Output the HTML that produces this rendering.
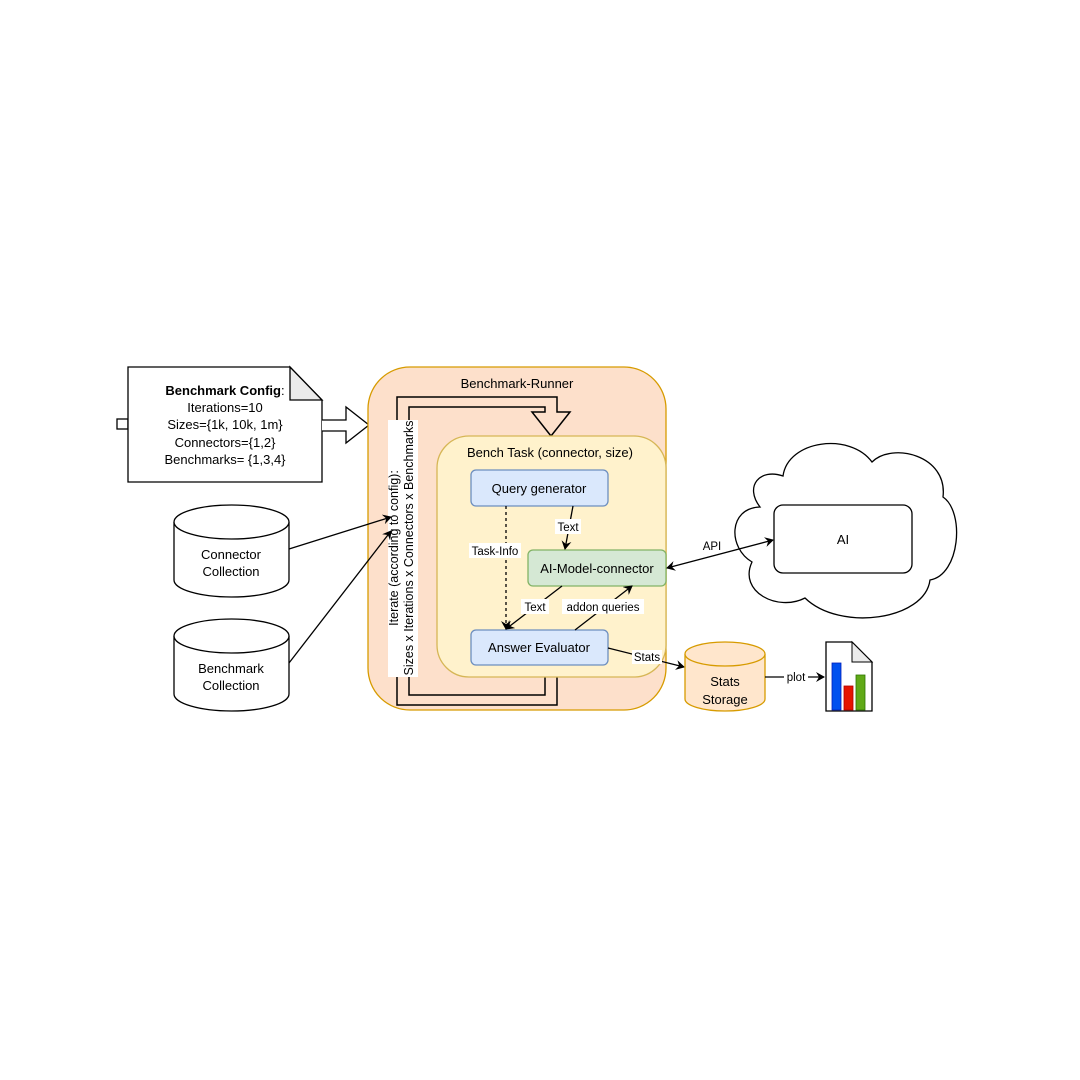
<!DOCTYPE html>
<html><head><meta charset="utf-8"><style>
html,body{margin:0;padding:0;background:#fff;}
svg{display:block;}
text{font-family:"Liberation Sans",Arial,sans-serif;fill:#000;}
</style></head><body>
<svg width="1080" height="1080" viewBox="0 0 1080 1080" xmlns="http://www.w3.org/2000/svg">
<defs>
<marker id="ah" markerWidth="10" markerHeight="10" refX="8" refY="5" orient="auto-start-reverse" markerUnits="userSpaceOnUse">
<path d="M0,0 L9,5 L0,10 L3,5 Z" fill="#000"/>
</marker>
</defs>
<rect width="1080" height="1080" fill="#fff"/>

<!-- Config note -->
<rect x="117" y="419" width="11" height="10" fill="#fff" stroke="#000" stroke-width="1.3"/>
<path d="M128,367 H290 L322,400 V482 H128 Z" fill="#fff" stroke="#000" stroke-width="1.3"/>
<path d="M290,367 V400 H322 Z" fill="#ebebeb" stroke="#000" stroke-width="1.3"/>
<text x="225" y="395" font-size="13" text-anchor="middle"><tspan font-weight="bold">Benchmark Config</tspan>:</text>
<text x="225" y="412" font-size="13" text-anchor="middle">Iterations=10</text>
<text x="225" y="429" font-size="13" text-anchor="middle">Sizes={1k, 10k, 1m}</text>
<text x="225" y="447" font-size="13" text-anchor="middle">Connectors={1,2}</text>
<text x="225" y="464" font-size="13" text-anchor="middle">Benchmarks= {1,3,4}</text>

<!-- hollow arrow -->
<path d="M322,420 H346 V407 L369,425 L346,443 V431 H322" fill="#fff" stroke="#000" stroke-width="1.3"/>

<!-- Benchmark runner -->
<rect x="368" y="367" width="298" height="343" rx="42" fill="#fde0cb" stroke="#d79b00" stroke-width="1.3"/>
<text x="517" y="388" font-size="13" text-anchor="middle">Benchmark-Runner</text>

<!-- loop arrow -->
<path d="M397,420 V397 H557 V412 H570 L551,436 L532,412 H545 V407 H409 V420" fill="#fde0cb" stroke="#000" stroke-width="1.5"/>
<path d="M397,677 V705 H557 V677 M409,677 V695 H545 V677" fill="none" stroke="#000" stroke-width="1.5"/>

<!-- Bench task -->
<rect x="437" y="436" width="229" height="241" rx="32" fill="#fff2cc" stroke="#d6b656" stroke-width="1.3"/>
<text x="550" y="457" font-size="13" text-anchor="middle">Bench Task (connector, size)</text>

<!-- iterate label -->
<rect x="388" y="420" width="30" height="257" fill="#fff"/>
<text transform="translate(398,548) rotate(-90)" font-size="12.5" text-anchor="middle">Iterate (according to config):</text>
<text transform="translate(413,548) rotate(-90)" font-size="12.5" text-anchor="middle">Sizes x Iterations x Connectors x Benchmarks</text>

<!-- inner boxes -->
<rect x="471" y="470" width="137" height="36" rx="5" fill="#dae8fc" stroke="#6c8ebf" stroke-width="1.3"/>
<text x="539" y="493" font-size="13" text-anchor="middle">Query generator</text>
<rect x="528" y="550" width="138" height="36" rx="5" fill="#d5e8d4" stroke="#82b366" stroke-width="1.3"/>
<text x="597" y="573" font-size="13" text-anchor="middle">AI-Model-connector</text>
<rect x="471" y="630" width="137" height="35" rx="5" fill="#dae8fc" stroke="#6c8ebf" stroke-width="1.3"/>
<text x="539" y="652" font-size="13" text-anchor="middle">Answer Evaluator</text>

<!-- inner edges -->
<line x1="573" y1="506" x2="565" y2="549" stroke="#000" stroke-width="1.3" marker-end="url(#ah)"/>
<rect x="555" y="519" width="26" height="15" fill="#fff"/>
<text x="568" y="531" font-size="11.5" text-anchor="middle">Text</text>
<line x1="506" y1="506" x2="506" y2="629" stroke="#000" stroke-width="1.3" stroke-dasharray="3,3" marker-end="url(#ah)"/>
<rect x="469" y="543" width="52" height="15" fill="#fff"/>
<text x="495" y="555" font-size="11.5" text-anchor="middle">Task-Info</text>
<line x1="562" y1="586" x2="506" y2="629" stroke="#000" stroke-width="1.3" marker-end="url(#ah)"/>
<rect x="521" y="599" width="28" height="15" fill="#fff"/>
<text x="535" y="611" font-size="11.5" text-anchor="middle">Text</text>
<line x1="575" y1="630" x2="632" y2="586" stroke="#000" stroke-width="1.3" marker-end="url(#ah)"/>
<rect x="562" y="599" width="82" height="15" fill="#fff"/>
<text x="603" y="611" font-size="11.5" text-anchor="middle">addon queries</text>

<!-- cylinders -->
<g fill="#fff" stroke="#000" stroke-width="1.3">
<path d="M174,522 A57.5,17 0 0 1 289,522 V580 A57.5,17 0 0 1 174,580 Z"/>
<path d="M174,522 A57.5,17 0 0 0 289,522"/>
<path d="M174,636 A57.5,17 0 0 1 289,636 V694 A57.5,17 0 0 1 174,694 Z"/>
<path d="M174,636 A57.5,17 0 0 0 289,636"/>
</g>
<text x="231" y="559" font-size="13" text-anchor="middle">Connector</text>
<text x="231" y="576" font-size="13" text-anchor="middle">Collection</text>
<text x="231" y="673" font-size="13" text-anchor="middle">Benchmark</text>
<text x="231" y="690" font-size="13" text-anchor="middle">Collection</text>
<line x1="289" y1="549" x2="391" y2="517" stroke="#000" stroke-width="1.3" marker-end="url(#ah)"/>
<line x1="289" y1="663" x2="391" y2="531" stroke="#000" stroke-width="1.3" marker-end="url(#ah)"/>

<!-- cloud -->
<path d="M783,476 C788,440 850,432 872,462 C892,442 948,455 943,497 C965,512 960,575 930,580 C925,620 840,632 805,598 C778,612 738,592 752,562 C728,548 728,508 760,507 C744,486 760,468 783,476 Z" fill="#fff" stroke="#000" stroke-width="1.3"/>
<rect x="774" y="505" width="138" height="68" rx="9" fill="#fff" stroke="#000" stroke-width="1.3"/>
<text x="843" y="544" font-size="13" text-anchor="middle">AI</text>
<line x1="667" y1="568" x2="773" y2="540" stroke="#000" stroke-width="1.3" marker-start="url(#ah)" marker-end="url(#ah)"/>
<rect x="700" y="538" width="24" height="14" fill="#fff"/>
<text x="712" y="550" font-size="11.5" text-anchor="middle">API</text>

<!-- stats -->
<line x1="608" y1="648" x2="684" y2="667" stroke="#000" stroke-width="1.3" marker-end="url(#ah)"/>
<rect x="632" y="650" width="30" height="14" fill="#fff"/>
<text x="647" y="661" font-size="11.5" text-anchor="middle">Stats</text>
<g fill="#ffe6cc" stroke="#d79b00" stroke-width="1.3">
<path d="M685,654 A40,12 0 0 1 765,654 V699 A40,12 0 0 1 685,699 Z"/>
<path d="M685,654 A40,12 0 0 0 765,654"/>
</g>
<text x="725" y="686" font-size="13" text-anchor="middle">Stats</text>
<text x="725" y="704" font-size="13" text-anchor="middle">Storage</text>
<line x1="765" y1="677" x2="824" y2="677" stroke="#000" stroke-width="1.3" marker-end="url(#ah)"/>
<rect x="784" y="670" width="24" height="14" fill="#fff"/>
<text x="796" y="681" font-size="11.5" text-anchor="middle">plot</text>

<!-- chart doc -->
<path d="M826,642 H852 L872,662 V711 H826 Z" fill="#fff" stroke="#000" stroke-width="1.3"/>
<path d="M852,642 V662 H872 Z" fill="#ebebeb" stroke="#000" stroke-width="1"/>
<rect x="832" y="663" width="9" height="47" fill="#0050ef" stroke="#001dbc" stroke-width="0.8"/>
<rect x="844" y="686" width="9" height="24" fill="#e51400" stroke="#b20000" stroke-width="0.8"/>
<rect x="856" y="675" width="9" height="35" fill="#60a917" stroke="#2d7600" stroke-width="0.8"/>
</svg>
</body></html>
